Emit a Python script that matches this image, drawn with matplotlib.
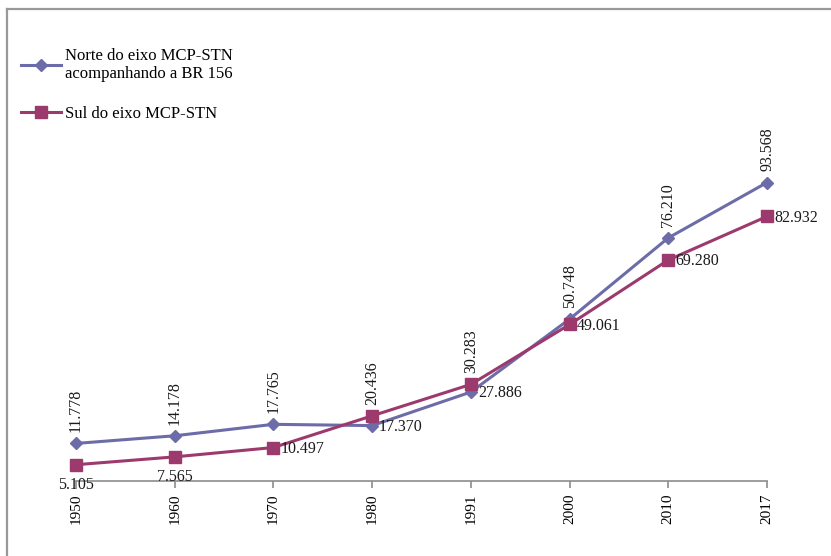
import numpy as np
import matplotlib
matplotlib.use("Agg")
import matplotlib.pyplot as plt
from matplotlib.lines import Line2D

plt.rcParams['font.family'] = ['Liberation Serif', 'DejaVu Serif']

# Population by census year
years = ['1950', '1960', '1970', '1980', '1991', '2000', '2010', '2017']
norte = [11778, 14178, 17765, 17370, 27886, 50748, 76210, 93568]
sul = [5105, 7565, 10497, 20436, 30283, 49061, 69280, 82932]

norte_label = 'Norte do eixo MCP-STN\nacompanhando a BR 156'
sul_label = 'Sul do eixo MCP-STN'

# where each value label sits relative to its point
norte_pos = ['above', 'above', 'above', 'right', 'right', 'above', 'above', 'above']
sul_pos = ['below', 'below', 'right', 'above', 'above', 'right', 'right', 'right']

c_norte = '#6c6ca8'
c_sul = '#9c3a6e'

W, H = 831, 556
fig = plt.figure(figsize=(W / 100, H / 100), dpi=100)
ax = fig.add_axes([76 / W, 75 / H, (767 - 76) / W, (481 - 162) / H])

x = np.arange(len(years))
ax.plot(x, norte, color=c_norte, lw=2.2, marker='D', ms=6.5, label=norte_label,
        zorder=3, clip_on=False)
ax.plot(x, sul, color=c_sul, lw=2.2, marker='s', ms=8.5, label=sul_label,
        zorder=3, clip_on=False)


def fmt(v):
    return f'{v:,}'.replace(',', '.')


def put_labels(vals, where):
    for xi, v, w in zip(x, vals, where):
        if w == 'above':
            ax.annotate(fmt(v), (xi, v), xytext=(0, 8), textcoords='offset points',
                        rotation=90, ha='center', va='bottom', fontsize=11.5, color='#1a1a1a')
        elif w == 'below':
            ax.annotate(fmt(v), (xi, v), xytext=(0, -9), textcoords='offset points',
                        ha='center', va='top', fontsize=11.5, color='#1a1a1a')
        else:
            ax.annotate(fmt(v), (xi, v), xytext=(5, -1), textcoords='offset points',
                        ha='left', va='center', fontsize=11.5, color='#1a1a1a')


put_labels(norte, norte_pos)
put_labels(sul, sul_pos)

ax.set_xlim(0, len(years) - 1)
ax.set_ylim(0, 100000)
ax.set_xticks(x)
ax.set_xticklabels(years, rotation=90, fontsize=11)
ax.set_yticks([])
for s in ['left', 'top', 'right']:
    ax.spines[s].set_visible(False)
ax.spines['bottom'].set_color('#8c8c8c')
ax.spines['bottom'].set_linewidth(1.2)
ax.tick_params(axis='x', color='#8c8c8c', length=5, width=1.2, pad=4)
ax.patch.set_alpha(0)

# legend in the upper left corner
fig.legend(loc='upper left', bbox_to_anchor=(14 / W, 1 - 41 / H), frameon=False,
           fontsize=12, handlelength=2.4, handletextpad=0.25, labelspacing=1.45,
           borderaxespad=0)

# chart area border (cut at right and bottom)
fig.add_artist(Line2D([7 / W, 7 / W], [0, 1 - 9 / H], color='#999999', lw=1.6,
                      transform=fig.transFigure))
fig.add_artist(Line2D([7 / W, 1], [1 - 9 / H, 1 - 9 / H], color='#999999', lw=1.6,
                      transform=fig.transFigure))

fig.savefig('out.png', dpi=100)
